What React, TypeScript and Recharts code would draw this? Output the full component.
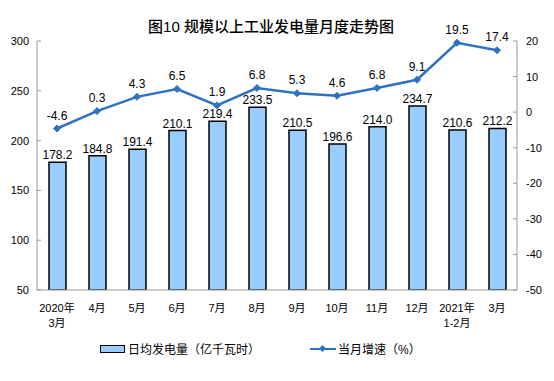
import React from 'react';
import {
  ComposedChart,
  Bar,
  Line,
  XAxis,
  YAxis,
  LabelList,
  Legend,
} from 'recharts';

const months = [
  '2020年\n3月', '4月', '5月', '6月', '7月', '8月',
  '9月', '10月', '11月', '12月', '2021年\n1-2月', '3月',
];
const dailyOutput = [178.2, 184.8, 191.4, 210.1, 219.4, 233.5, 210.5, 196.6, 214.0, 234.7, 210.6, 212.2];
const growth = [-4.6, 0.3, 4.3, 6.5, 1.9, 6.8, 5.3, 4.6, 6.8, 9.1, 19.5, 17.4];
const leftTicks = [50, 100, 150, 200, 250, 300];
const rightTicks = [-50, -40, -30, -20, -10, 0, 10, 20];

const data = months.map((m, i) => ({ month: m, output: dailyOutput[i], growth: growth[i] }));

const FONT = '"Liberation Sans", "Noto Sans CJK SC", sans-serif';
const LINE_BLUE = '#2F72C0';
const BAR_BLUE = '#99CCFF';

function MonthTick(props: any) {
  const { x, y, payload } = props;
  const lines = String(payload.value).split('\n');
  return (
    <text x={x} y={y + 14} textAnchor="middle" fontSize={11} fontFamily={FONT} fill="#000">
      {lines.map((l, i) => (
        <tspan key={i} x={x} dy={i === 0 ? 0 : 15}>{l}</tspan>
      ))}
    </text>
  );
}

function RightTick(props: any) {
  const { x, y, payload } = props;
  return (
    <text x={x} y={y} dy={4} textAnchor="start" fontSize={11} fontFamily={FONT} fill="#000">
      {payload.value}
    </text>
  );
}

function Diamond(props: any) {
  const { cx, cy } = props;
  if (cx == null || cy == null) return null;
  const r = 3.5;
  return (
    <path
      d={`M${cx},${cy - r}L${cx + r},${cy}L${cx},${cy + r}L${cx - r},${cy}Z`}
      fill={LINE_BLUE}
      stroke={LINE_BLUE}
    />
  );
}

function LegendBox() {
  return (
    <div style={{ position: 'relative', width: 554, height: 20, fontFamily: FONT, fontSize: 12, color: '#000' }}>
      <div style={{ position: 'absolute', left: 100, top: 3, width: 23, height: 6, background: BAR_BLUE, border: '1.5px solid #000' }} />
      <span style={{ position: 'absolute', left: 128, top: -2 }}>日均发电量（亿千瓦时）</span>
      <div style={{ position: 'absolute', left: 310, top: 6, width: 26, height: 2, background: LINE_BLUE }} />
      <div style={{ position: 'absolute', left: 320, top: 4, width: 5, height: 5, background: LINE_BLUE, transform: 'rotate(45deg)' }} />
      <span style={{ position: 'absolute', left: 338, top: -2 }}>当月增速（%）</span>
    </div>
  );
}

export default function App() {
  return (
    <div style={{ position: 'absolute', left: 0, top: 0, width: 554, height: 381, background: '#fff' }}>
      <div style={{ position: 'absolute', left: 0, top: 15, width: 554, textAlign: 'center', fontFamily: FONT, fontSize: 15, fontWeight: 500, color: '#000', paddingRight: 12, boxSizing: 'border-box' }}>
        图10 规模以上工业发电量月度走势图
      </div>
      <ComposedChart
        width={554}
        height={381}
        data={data}
        margin={{ top: 41, right: 0, bottom: 51, left: 1 }}
      >
        <XAxis
          dataKey="month"
          height={40}
          tick={<MonthTick />}
          tickLine={false}
          axisLine={{ stroke: '#999' }}
          interval={0}
        />
        <YAxis
          yAxisId="left"
          width={36}
          domain={[50, 300]}
          ticks={leftTicks}
          tickSize={-4}
          tickMargin={12}
          tickLine={{ stroke: '#999' }}
          axisLine={{ stroke: '#999' }}
          tick={{ fontSize: 11, fill: '#000', fontFamily: FONT }}
          allowDataOverflow
        />
        <YAxis
          yAxisId="right"
          orientation="right"
          width={37}
          domain={[-50, 20]}
          ticks={rightTicks}
          tickSize={-4}
          tickMargin={13}
          tickLine={{ stroke: '#999' }}
          axisLine={{ stroke: '#999' }}
          tick={<RightTick />}
        />
        <Bar
          yAxisId="left"
          dataKey="output"
          fill={BAR_BLUE}
          stroke="#000"
          strokeWidth={1.5}
          barSize={17}
          isAnimationActive={false}
        >
          <LabelList dataKey="output" position="top" offset={3} formatter={(v: any) => Number(v).toFixed(1)} style={{ fontSize: 12, fill: '#000', fontFamily: FONT }} />
        </Bar>
        <Line
          yAxisId="right"
          dataKey="growth"
          stroke={LINE_BLUE}
          strokeWidth={2.5}
          dot={<Diamond />}
          activeDot={false}
          isAnimationActive={false}
        >
          <LabelList dataKey="growth" position="top" offset={9} formatter={(v: any) => Number(v).toFixed(1)} style={{ fontSize: 12, fill: '#000', fontFamily: FONT }} />
        </Line>
        <Legend
          layout="horizontal"
          verticalAlign="middle"
          align="center"
          content={() => <LegendBox />}
          wrapperStyle={{ top: 342, left: 0, width: 554 }}
        />
      </ComposedChart>
    </div>
  );
}
